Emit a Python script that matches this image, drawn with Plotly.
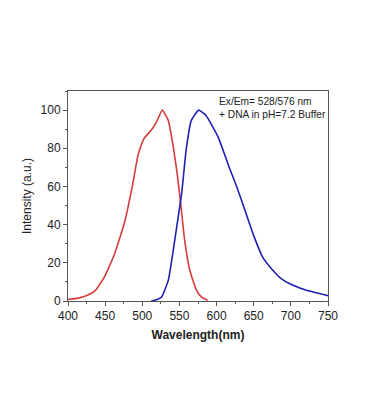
import plotly.graph_objects as go

ex_wl = [400, 414, 426, 437, 449, 462, 476, 487, 494, 498, 503, 512, 519, 527, 535, 541, 547, 552, 557, 564, 573, 580, 588]
ex_int = [0.8, 1.5, 3, 5.6, 12.6, 24, 41, 61, 76, 81, 85.5, 89.4, 93.7, 100, 94.6, 82.4, 66.7, 50, 32, 16, 5.6, 2, 0.3]

em_wl = [512, 520, 526, 535, 541, 547, 553, 559, 566, 576, 586, 602, 618, 627, 636, 649, 662, 676, 687, 703, 721, 750]
em_int = [0, 0.8, 2.1, 10.8, 24.8, 40.5, 56.2, 79, 94.6, 100, 97, 86, 69, 60, 50, 35.3, 23, 16, 11.7, 8.2, 5.6, 2.8]

fig = go.Figure()
fig.add_trace(go.Scatter(x=ex_wl, y=ex_int, mode="lines",
                         line=dict(color="#d63c3c", width=1.6, shape="spline", smoothing=0.4),
                         showlegend=False))
fig.add_trace(go.Scatter(x=em_wl, y=em_int, mode="lines",
                         line=dict(color="#2020b4", width=1.6, shape="spline", smoothing=0.4),
                         showlegend=False))

font = "Liberation Sans, Arial, sans-serif"
fig.update_layout(
    width=370, height=420,
    margin=dict(l=60, r=50, t=83, b=127),
    paper_bgcolor="white", plot_bgcolor="white",
    font=dict(family=font, size=12, color="#222"),
    xaxis=dict(range=[400, 750], dtick=50, tick0=400, showgrid=False, zeroline=False,
               showline=True, linecolor="#555", linewidth=1, mirror=True,
               ticks="outside", ticklen=4, tickcolor="#555",
               minor=dict(ticks="outside", ticklen=2, dtick=25, tickcolor="#555"),
               tickfont=dict(size=12),
               title=dict(text="<b>Wavelength(nm)</b>", font=dict(size=12), standoff=8)),
    yaxis=dict(range=[0, 110], dtick=20, tick0=0, showgrid=False, zeroline=False,
               showline=True, linecolor="#555", linewidth=1, mirror=True,
               ticks="outside", ticklen=4, tickcolor="#555",
               minor=dict(ticks="outside", ticklen=2, dtick=10, tickcolor="#555"),
               tickfont=dict(size=12),
               title=dict(text="Intensity (a.u.)", font=dict(size=12), standoff=6)),
    annotations=[dict(text="Ex/Em= 528/576 nm<br>+ DNA in pH=7.2 Buffer",
                      x=0.572, y=0.985, xref="paper", yref="paper",
                      xanchor="left", yanchor="top", align="left", showarrow=False,
                      font=dict(size=10.2, family=font, color="#222"))],
)

fig.write_html("out.html")
